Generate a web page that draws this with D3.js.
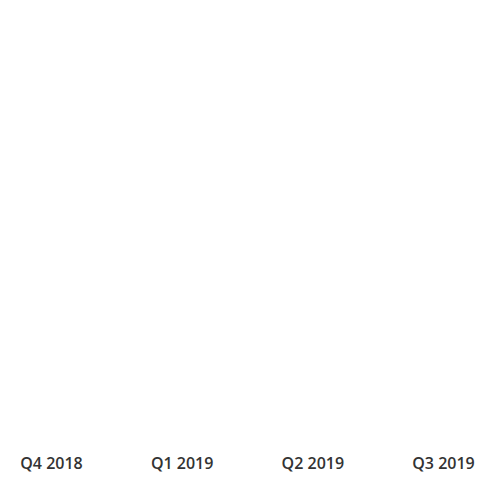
<!DOCTYPE html>
<html>
<head>
<meta charset="utf-8">
<script src="https://cdn.jsdelivr.net/npm/d3@7/dist/d3.min.js"></script>
<style>
html, body { margin: 0; padding: 0; background: #fff; }
svg { display: block; }
</style>
</head>
<body>
<svg id="chart" width="492" height="492"></svg>
<script>
const categories = ["Q4 2018", "Q1 2019", "Q2 2019", "Q3 2019"];
const values = [0, 0, 0, 0];

const svg = d3.select("#chart");
const W = 492, H = 492;
const margin = { top: 10, right: 0, bottom: 40, left: 0 };

const x = d3.scalePoint().domain(categories).range([51, 443]);
const y = d3.scaleLinear().domain([0, 1]).range([H - margin.bottom, margin.top]);

svg.append("g")
  .selectAll("rect")
  .data(values)
  .join("rect")
  .attr("x", (d, i) => x(categories[i]) - 40)
  .attr("width", 80)
  .attr("y", d => y(d))
  .attr("height", d => y(0) - y(d))
  .attr("fill", "#4e79a7");

const xAxis = d3.axisBottom(x).tickSize(0).tickPadding(0);
const g = svg.append("g")
  .attr("transform", `translate(0, 468.5)`)
  .call(xAxis);
g.select(".domain").remove();
g.selectAll("text")
  .attr("dy", null)
  .attr("y", 0)
  .attr("font-family", "'Open Sans', sans-serif")
  .attr("font-size", 16)
  .attr("font-weight", 600)
  .attr("fill", "#333");
</script>
</body>
</html>
